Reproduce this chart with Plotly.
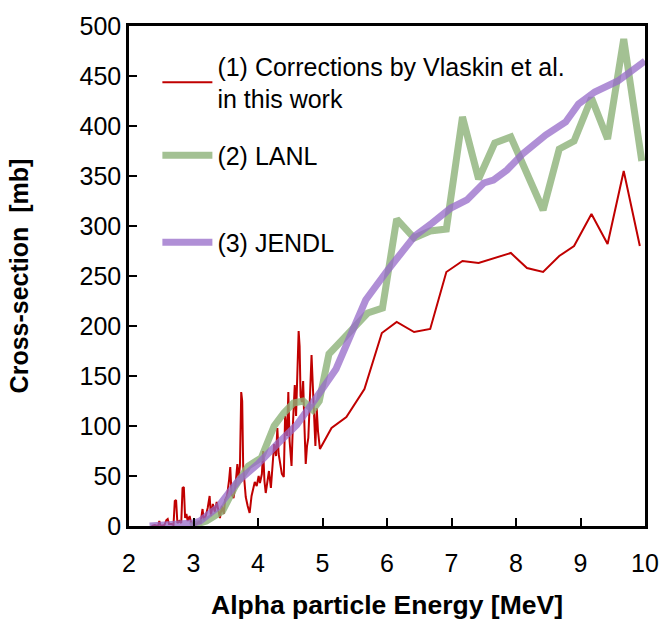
import plotly.graph_objects as go

# ---- data ----
red_E = [2.35, 2.40, 2.45, 2.47, 2.49, 2.55, 2.58, 2.60, 2.62, 2.66, 2.69, 2.71, 2.73, 2.75, 2.78,
         2.81, 2.83, 2.85, 2.87, 2.89, 2.91, 2.94, 2.96, 2.99, 3.02, 3.05, 3.08, 3.11, 3.14, 3.16,
         3.19, 3.22, 3.25, 3.27, 3.30, 3.33, 3.36, 3.38, 3.41, 3.44, 3.47, 3.49, 3.52, 3.55, 3.57,
         3.59, 3.62, 3.65, 3.68, 3.70, 3.72, 3.74, 3.755, 3.77, 3.79, 3.81, 3.84, 3.87, 3.90, 3.92,
         3.95, 3.98, 4.01, 4.03, 4.06, 4.08, 4.10, 4.12, 4.15, 4.17, 4.20, 4.23, 4.25, 4.28, 4.30,
         4.32, 4.35, 4.37, 4.40, 4.42, 4.45, 4.47, 4.49, 4.52, 4.54, 4.57, 4.59, 4.61, 4.63, 4.645,
         4.66, 4.68, 4.70, 4.72, 4.74, 4.76, 4.78, 4.80, 4.83, 4.85, 4.87, 4.89, 4.91, 4.93, 4.96,
         5.14, 5.37, 5.65, 5.92, 6.15, 6.42, 6.67, 6.92, 7.17, 7.42, 7.67, 7.92, 8.17, 8.42, 8.67,
         8.90, 9.17, 9.42, 9.67, 9.92]
red_Y = [0, 1, 0, 5, 0, 1, 6, 7, 2, 2, 1, 25, 26, 3, 5,
         3, 38, 39, 8, 12, 5, 10, 4, 3, 1, 2, 4, 3, 17, 6,
         10, 18, 30, 10, 22, 14, 24, 18, 8, 20, 12, 26, 30, 45, 59,
         32, 28, 40, 62, 48, 60, 134, 125, 60, 46, 29, 20, 13, 30, 36,
         44, 40, 50, 43, 52, 75, 45, 33, 50, 55, 38, 60, 82, 70, 98,
         72, 60, 52, 49, 110, 90, 134, 85, 60, 100, 141, 110, 150, 195, 180,
         130, 124, 145, 100, 62, 80, 88, 120, 171, 140, 105, 80, 118, 95, 77,
         98, 109, 137, 193, 204, 194, 197, 254, 265, 263, 268, 273, 258, 254, 270,
         280, 312, 282, 355, 280]

lanl_E = [2.95, 3.2, 3.45, 3.65, 3.85, 4.05, 4.25, 4.4, 4.55, 4.7, 4.85, 4.95, 5.1, 5.3, 5.5,
          5.7, 5.93, 6.15, 6.42, 6.67, 6.92, 7.17, 7.42, 7.67, 7.92, 8.17, 8.42, 8.67, 8.9, 9.17,
          9.42, 9.67, 9.95]
lanl_Y = [0, 5, 15, 40, 60, 68, 100, 113, 123, 125, 116, 125, 172, 186, 200,
          213, 218, 307, 288, 295, 297, 409, 347, 383, 389, 352, 316, 377, 385, 428,
          387, 487, 365]

jendl_E = [2.32, 2.7, 3.0, 3.1, 3.38, 3.69, 4.0, 4.3, 4.6, 4.9, 5.21, 5.41, 5.67, 6.0, 6.2,
           6.43, 6.7, 6.99, 7.24, 7.5, 7.65, 7.86, 8.1, 8.46, 8.77, 8.97, 9.22, 9.58, 10.0]
jendl_Y = [0, 1, 3, 5, 19, 45, 62, 82, 101, 128, 157, 187, 226, 255, 272,
           290, 303, 318, 326, 343, 346, 356, 372, 391, 404, 422, 434, 445, 465]

x_ticks = [2, 3, 4, 5, 6, 7, 8, 9, 10]
y_ticks = [0, 50, 100, 150, 200, 250, 300, 350, 400, 450, 500]

names = ["(1) Corrections by Vlaskin et al.<br>in this work", "(2) LANL", "(3) JENDL"]

FONT = "Liberation Sans, Arial, sans-serif"
LEG_FONT = dict(size=25, family=FONT, color="black")

fig = go.Figure()
fig.add_trace(go.Scatter(x=red_E, y=red_Y, mode="lines", name=names[0],
                         line=dict(color="#C00000", width=2), legend="legend"))
fig.add_trace(go.Scatter(x=lanl_E, y=lanl_Y, mode="lines", name=names[1],
                         line=dict(color="rgba(140,178,120,0.8)", width=7), legend="legend2"))
fig.add_trace(go.Scatter(x=jendl_E, y=jendl_Y, mode="lines", name=names[2],
                         line=dict(color="rgba(150,105,200,0.75)", width=7), legend="legend3"))

leg_common = dict(x=0.055, xanchor="left", yanchor="middle", font=LEG_FONT,
                  bgcolor="rgba(0,0,0,0)", itemwidth=50)

fig.update_layout(
    width=671, height=630,
    margin=dict(l=129, r=16, t=20, b=104),
    paper_bgcolor="white", plot_bgcolor="white",
    font=dict(family=FONT, color="black"),
    showlegend=True,
    legend=dict(y=0.8873, **leg_common),
    legend2=dict(y=0.7411, **leg_common),
    legend3=dict(y=0.5672, **leg_common),
    xaxis=dict(range=[2, 10], tickvals=x_ticks, ticks="inside", ticklen=8, tickwidth=2,
               tickcolor="black", showline=True, linecolor="black", linewidth=2.5,
               mirror=True, showgrid=False, zeroline=False,
               tickfont=dict(size=25, family=FONT), ticklabelstandoff=13,
               title=dict(text="<b>Alpha particle Energy [MeV]</b>",
                          font=dict(size=26.5, family=FONT), standoff=20)),
    yaxis=dict(range=[0, 500], tickvals=y_ticks, ticks="inside", ticklen=8, tickwidth=2,
               tickcolor="black", showline=True, linecolor="black", linewidth=2.5,
               mirror=True, showgrid=False, zeroline=False,
               tickfont=dict(size=25, family=FONT),
               title=dict(text="<b>Cross-section  [mb]</b>",
                          font=dict(size=25, family=FONT), standoff=44)),
)

fig.write_html("out.html")
